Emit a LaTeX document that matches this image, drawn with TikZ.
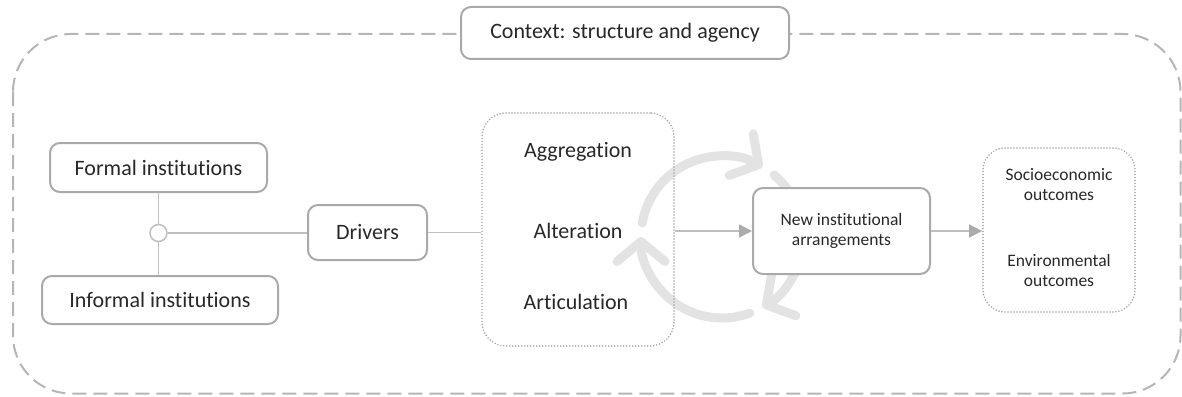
\documentclass[tikz,border=0pt]{standalone}
\usepackage{fontspec}
\setmainfont{Carlito}[Ligatures=NoCommon]
\usetikzlibrary{arrows.meta}

\definecolor{txt}{HTML}{282828}
\definecolor{frame}{HTML}{B5B5B5}
\definecolor{boxline}{HTML}{A9A9A9}
\definecolor{link}{HTML}{BFBFBF}
\definecolor{tipc}{HTML}{ABABAB}
\definecolor{cyc}{HTML}{E3E3E3}
\definecolor{dots}{HTML}{A3A3A3}

\begin{document}
\begin{tikzpicture}[x=1pt,y=-1pt,
  every node/.style={text=txt},
  bigtxt/.style={font=\fontsize{22}{24}\selectfont},
  smalltxt/.style={font=\fontsize{17.5}{20}\selectfont, align=center},
  solidbox/.style={draw=boxline, line width=2pt, rounded corners=10pt, fill=white, inner sep=0pt},
  dotbox/.style={draw=dots, line width=1.7pt, dash pattern=on 0pt off 3pt, line cap=round, rounded corners=24pt, inner sep=0pt},
  link/.style={draw=link, line width=1.5pt},
  flow/.style={draw=link, line width=1.5pt, -{Triangle[length=13pt,width=13pt,fill=tipc,color=tipc]}},
  cycarc/.style={draw=cyc, line width=9pt, line cap=round, -{Straight Barb[length=20pt,width=48pt,round]}},
  ctxframe/.style={draw=frame, line width=2pt, dash pattern=on 14pt off 7pt, rounded corners=58pt}
]
\useasboundingbox (0,0) rectangle (1182,396);

% context frame with its title
\draw[ctxframe] (13,34) rectangle (1180.5,393.5);
\node[solidbox, bigtxt, minimum width=328pt, minimum height=52pt] (ctx) at (625,33) {Context: structure and agency};

% the renewal cycle behind the process boxes
\draw[cycarc] (722,237) ++(-170:81) arc[start angle=-170, end angle=-60, radius=81];
\draw[cycarc] (722,237) ++(-50:81) arc[start angle=-50, end angle=60, radius=81];
\draw[cycarc] (722,237) ++(70:81) arc[start angle=70, end angle=180, radius=81];

% institutions feeding the drivers
\node[solidbox, bigtxt, minimum width=217pt, minimum height=49pt] (formal) at (158.5,167.5) {Formal institutions};
\node[solidbox, bigtxt, minimum width=236pt, minimum height=48pt] (informal) at (160,300) {Informal institutions};
\node[circle, draw=link, line width=1.5pt, fill=white, minimum size=17pt, inner sep=0pt] (jn) at (158.5,233) {};
\draw[link] (jn.north) -- (jn.north |- formal.south);
\draw[link] (jn.south) -- (jn.south |- informal.north);

\node[solidbox, bigtxt, minimum width=119pt, minimum height=55pt] (drivers) at (367.5,232.5) {Drivers};
\draw[link] (jn.east) -- (jn.east -| drivers.west);

% process box
\node[dotbox, minimum width=192pt, minimum height=233pt] (proc) at (578,229.5) {};
\node[bigtxt] (agg) at (578,152) {Aggregation};
\node[bigtxt] (alt) at (578,231) {Alteration};
\node[bigtxt] (art) at (576,302) {Articulation};
\draw[link] (drivers.east) -- (drivers.east -| proc.west);

% new arrangements and outcomes
\node[solidbox, smalltxt, minimum width=177pt, minimum height=86pt] (nia) at (841.5,231) {New institutional\\arrangements};
\draw[flow] (proc.east |- nia.west) -- (nia.west);

\node[dotbox, rounded corners=22pt, minimum width=152pt, minimum height=164pt] (outc) at (1059,230) {};
\node[smalltxt] (socio) at (1059,185) {Socioeconomic\\outcomes};
\node[smalltxt] (env) at (1059,270.5) {Environmental\\outcomes};
\draw[flow] (nia.east) -- (nia.east -| outc.west);
\end{tikzpicture}
\end{document}
